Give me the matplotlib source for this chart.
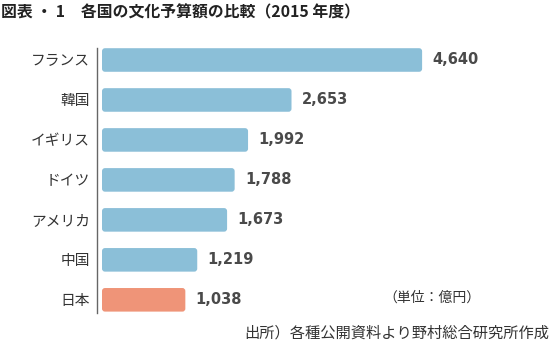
import matplotlib
matplotlib.use("Agg")
import matplotlib.pyplot as plt
from matplotlib.patches import FancyBboxPatch

plt.rcParams['font.family'] = ['Noto Sans CJK JP', 'DejaVu Sans']

# data (単位：億円)
countries = ['フランス', '韓国', 'イギリス', 'ドイツ', 'アメリカ', '中国', '日本']
budgets = [4640, 2653, 1992, 1788, 1673, 1219, 1038]
highlight = '日本'

blue = '#8bbfd8'
salmon = '#ef9478'

W, H = 553, 350
fig = plt.figure(figsize=(W / 100, H / 100), dpi=100)

# axes box in pixels: left spine at x=97, from y=48 to y=313
ax_l, ax_t, ax_b = 97, 48, 313
ax = fig.add_axes([ax_l / W, 1 - ax_b / H, 1 - ax_l / W, (ax_b - ax_t) / H])

px = 0.06573          # pixels per unit
base = -230           # bars start a little left of zero
gap = 5               # px between spine and bar start
x0 = base - gap / px
ax.set_xlim(x0, x0 + (W - ax_l) / px)
ax.set_ylim(6.33, -0.3)

pos = list(range(len(countries)))
colors = [salmon if c == highlight else blue for c in countries]
bars = ax.barh(pos, [v - base for v in budgets], left=base, height=0.59, color=colors)

# swap plain bars for slightly rounded ones
row_px = 40
r_px = 3
for b, c in zip(bars, colors):
    x, y, w, h = b.get_x(), b.get_y(), b.get_width(), b.get_height()
    b.remove()
    ax.add_patch(FancyBboxPatch((x, y), w, h,
                                boxstyle=f"round,pad=0,rounding_size={r_px / px}",
                                mutation_aspect=(1 / row_px) / (1 / px),
                                fc=c, ec='none'))

for p, v in zip(pos, budgets):
    ax.annotate(f"{v:,}", (v, p), xytext=(7.5, 0), textcoords='offset points',
                va='center', ha='left', fontsize=10.5, fontweight='bold',
                family='DejaVu Sans', color='#4a4a4a')

ax.set_yticks(pos)
ax.set_yticklabels(countries, fontsize=10.6, color='#333333')
ax.tick_params(axis='y', length=0, pad=5)
ax.set_xticks([])
for s in ['top', 'right', 'bottom']:
    ax.spines[s].set_visible(False)
ax.spines['left'].set_color('#666666')
ax.spines['left'].set_linewidth(1)

fig.text(1 / W, 1 - 12 / H, '図表 ・ 1　各国の文化予算額の比較（2015 年度）',
         fontsize=11.4, fontweight='bold', color='#222222', va='center', ha='left')
fig.text(383 / W, 1 - 298 / H, '（単位：億円）', fontsize=10, color='#333333',
         va='center', ha='left')
fig.text(549 / W, 1 - 333 / H, '出所）各種公開資料より野村総合研究所作成', fontsize=11,
         color='#333333', va='center', ha='right')

fig.savefig('out.png', dpi=100)
